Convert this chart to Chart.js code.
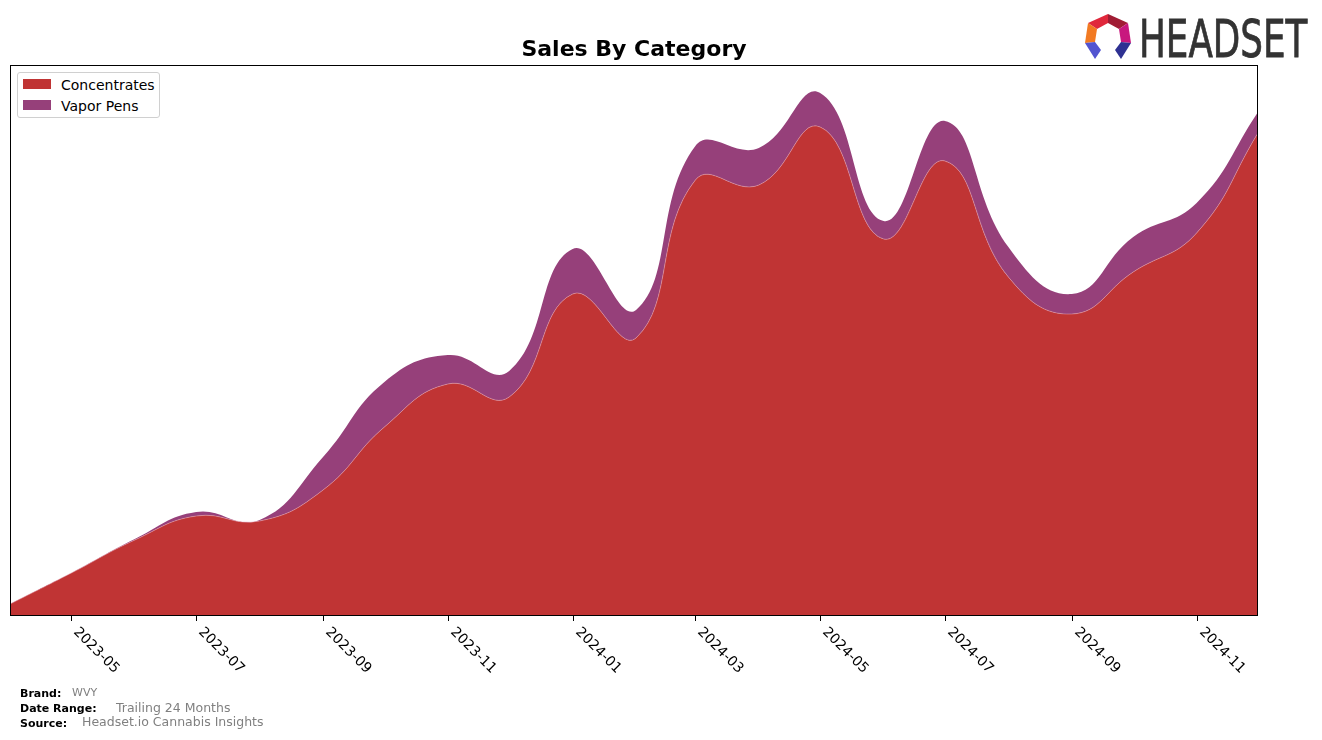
<!DOCTYPE html>
<html>
<head>
<meta charset="utf-8">
<title>Sales By Category</title>
<script src="https://cdn.jsdelivr.net/npm/chart.js@4.4.1/dist/chart.umd.min.js"></script>
<style>
  html, body { margin: 0; padding: 0; background: #fff; }
  body { width: 1322px; height: 740px; position: relative; overflow: hidden; font-family: "DejaVu Sans", sans-serif; }
  #chart { position: absolute; left: 0; top: 0; }
  .abs { position: absolute; white-space: nowrap; line-height: 1; }
  #title { left: 0; width: 1268px; text-align: center; top: 38px; font-size: 22px; font-weight: bold; color: #000; }
  #legend { left: 17px; top: 72px; width: 141px; height: 44px; border: 1px solid #d0d0d0; border-radius: 3px; background: #fff; }
  .sw { position: absolute; left: 5px; width: 28px; height: 10px; }
  .lt { position: absolute; left: 43px; font-size: 14px; line-height: 14px; color: #000; }
  .fl { font-size: 11px; font-weight: bold; color: #000; }
  .fv { font-size: 12.5px; color: #808080; }
  #logoText { left: 1139px; top: 14px; font-size: 51px; color: #333; transform: scaleX(0.7); transform-origin: 0 0; -webkit-text-stroke: 0.8px #333; }
</style>
</head>
<body>
<canvas id="chart" width="1322" height="740"></canvas>

<div id="title" class="abs">Sales By Category</div>

<div id="legend" class="abs">
  <div class="sw" style="top:6px;background:#c03434"></div>
  <div class="lt" style="top:5px">Concentrates</div>
  <div class="sw" style="top:27px;background:#96407a"></div>
  <div class="lt" style="top:26px">Vapor Pens</div>
</div>

<svg class="abs" style="left:0;top:0" width="1322" height="80">
  <polygon points="1088,23 1108,14 1108,23 1097,29" fill="#e0283c"/>
  <polygon points="1108,14 1128,23 1119,29 1108,23" fill="#a01c34"/>
  <polygon points="1085,43 1088,23 1097,29 1095,42" fill="#f27a22"/>
  <polygon points="1128,23 1131,43 1121,42 1119,29" fill="#c8177e"/>
  <polygon points="1085,43 1095,42 1101,50 1095,59" fill="#5254d0"/>
  <polygon points="1131,43 1121,42 1115,50 1121,59" fill="#2e3192"/>
</svg>
<div id="logoText" class="abs">HEADSET</div>

<div class="abs fl" style="left:20px;top:688px">Brand:</div>
<div class="abs fv" style="left:72px;top:687px;font-size:11px">WVY</div>
<div class="abs fl" style="left:20px;top:703px">Date Range:</div>
<div class="abs fv" style="left:116px;top:702px">Trailing 24 Months</div>
<div class="abs fl" style="left:20px;top:718px">Source:</div>
<div class="abs fv" style="left:82px;top:716px">Headset.io Cannabis Insights</div>

<script>
// Data (monthly, heights)
const months       = ['2023-04','2023-05','2023-06','2023-07','2023-08','2023-09','2023-10',
                      '2023-11','2023-12','2024-01','2024-02','2024-03','2024-04','2024-05',
                      '2024-06','2024-07','2024-08','2024-09','2024-10','2024-11','2024-12'];
const concentrates = [12, 43, 76, 100, 95, 126, 189, 232, 219, 322, 278, 436, 431, 489, 377, 455, 339, 302, 344, 383, 483];
const vaporPens    = [0, 0, 1, 4, 1, 33, 45, 29, 26, 45, 28, 34, 37, 34, 18, 40, 30, 20, 35, 30, 21];
const tickLabels   = ['2023-05','2023-07','2023-09','2023-11','2024-01','2024-03','2024-05','2024-07','2024-09','2024-11'];

const start = Date.UTC(2023, 3, 1);
function dayOf(m) {
  const [y, mo] = m.split('-').map(Number);
  return (Date.UTC(y, mo - 1, 1) - start) / 86400000;
}
const xs = months.map(dayOf);

// Frame, ticks and rotated tick labels (matplotlib style)
const framePlugin = {
  id: 'frame',
  afterDatasetsDraw(chart) {
    const { ctx, chartArea: a, scales: { x } } = chart;
    ctx.save();
    ctx.strokeStyle = '#000';
    ctx.lineWidth = 1;
    ctx.strokeRect(a.left + 0.5, a.top + 0.5, a.right - a.left - 1, a.bottom - a.top - 1);
    ctx.font = '14px "DejaVu Sans"';
    ctx.fillStyle = '#000';
    ctx.textBaseline = 'top';
    tickLabels.forEach(m => {
      const px = Math.round(x.getPixelForValue(dayOf(m))) + 0.5;
      ctx.beginPath();
      ctx.moveTo(px, a.bottom);
      ctx.lineTo(px, a.bottom + 5);
      ctx.stroke();
      ctx.save();
      ctx.translate(px + 9, a.bottom + 9);
      ctx.rotate(Math.PI / 4);
      ctx.fillText(m, 0, 0);
      ctx.restore();
    });
    ctx.restore();
  }
};

new Chart(document.getElementById('chart').getContext('2d'), {
  type: 'line',
  data: {
    datasets: [
      {
        label: 'Concentrates',
        data: xs.map((d, i) => ({ x: d, y: concentrates[i] })),
        backgroundColor: '#c03434',
        borderColor: 'rgba(230,170,190,0.6)',
        borderWidth: 0.8,
        fill: 'origin',
      },
      {
        label: 'Vapor Pens',
        data: xs.map((d, i) => ({ x: d, y: vaporPens[i] })),
        backgroundColor: '#96407a',
        borderColor: 'rgba(150,64,122,0.0)',
        borderWidth: 0,
        fill: '-1',
      },
    ]
  },
  options: {
    responsive: false,
    animation: false,
    devicePixelRatio: 1,
    layout: { padding: { left: 10, right: 64, top: 65, bottom: 124 } },
    elements: { point: { radius: 0 }, line: { tension: 0.45 } },
    scales: {
      x: { type: 'linear', display: false, min: xs[0], max: xs[xs.length - 1] },
      y: { display: false, stacked: true, min: 0, max: 551 },
    },
    plugins: {
      legend: { display: false },
      tooltip: { enabled: false },
    }
  },
  plugins: [framePlugin]
});
</script>
</body>
</html>
